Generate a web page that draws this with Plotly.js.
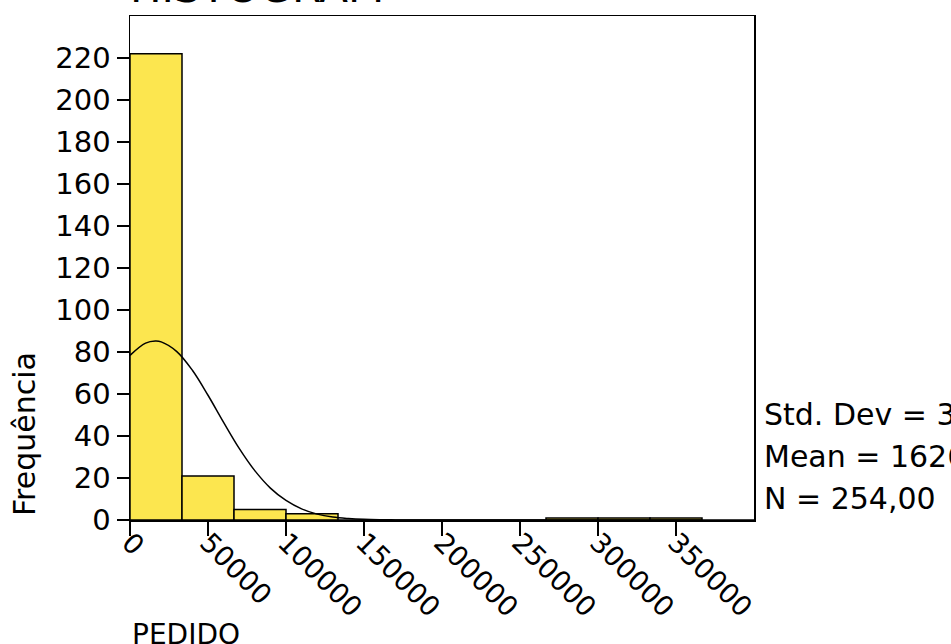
<!DOCTYPE html>
<html>
<head>
<meta charset="utf-8">
<script src="https://cdn.plot.ly/plotly-3.0.1.min.js"></script>
<style>html,body{margin:0;padding:0;background:#fff;}#chart{width:951px;height:644px;}</style>
</head>
<body>
<div id="chart"></div>
<script>
// Histogram bins (lower edges) and counts
const binWidth = 400000 / 12;
const binStarts = [0, 33333.33, 66666.67, 100000, 133333.33, 166666.67, 200000, 233333.33, 266666.67, 300000, 333333.33];
const counts =    [222, 21, 5, 3, 0, 0, 0, 0, 1, 1, 1];

// Normal curve
const curveX = [0, 10000, 16250, 20000, 30000, 40000, 50000, 60000, 70000, 80000, 90000, 100000, 110000, 120000, 130000, 140000, 150000, 160000, 170000, 180000, 200000, 400000];
const curveY = [78.4, 84.2, 85.2, 84.8, 80.2, 71.3, 59.4, 46.5, 34.1, 23.5, 15.2, 9.3, 5.3, 2.8, 1.4, 0.7, 0.3, 0.12, 0.05, 0.02, 0, 0];

const xTicks = [0, 50000, 100000, 150000, 200000, 250000, 300000, 350000];
const yTicks = [0, 20, 40, 60, 80, 100, 120, 140, 160, 180, 200, 220];

const titleText = "HISTOGRAM";
const xTitle = "PEDIDO";
const yTitle = "Frequência";
const statsLines = ["Std. Dev = 39740,12", "Mean = 16261,4", "N = 254,00"];

const FONT = "DejaVu Sans, sans-serif";

const traces = [
  {
    type: "bar",
    x: binStarts,
    y: counts,
    width: binWidth,
    offset: 0,
    marker: {color: "#FCE64F", line: {color: "#000", width: 1.5}},
    hoverinfo: "skip"
  },
  {
    type: "scatter",
    mode: "lines",
    x: curveX,
    y: curveY,
    line: {color: "#000", width: 1.5, shape: "spline"},
    hoverinfo: "skip"
  }
];

const annotations = [
  {text: titleText, xref: "paper", yref: "paper", x: 0, y: 1, xanchor: "left", yanchor: "bottom",
   yshift: 2, xshift: -2, showarrow: false, font: {family: FONT, size: 42, color: "#000"}},
  {text: xTitle, xref: "paper", yref: "paper", x: 0, y: 0, xanchor: "left", yanchor: "top",
   yshift: -96, xshift: 0, showarrow: false, font: {family: FONT, size: 28, color: "#000"}},
  {text: yTitle, xref: "paper", yref: "paper", x: 0, y: 0, xanchor: "center", yanchor: "bottom",
   textangle: -90, xshift: -106, yshift: 2, showarrow: false, font: {family: FONT, size: 30, color: "#000"}}
];
statsLines.forEach((t, i) => {
  annotations.push({text: t, xref: "paper", yref: "paper", x: 1, y: 0, xanchor: "left", yanchor: "bottom",
    xshift: 8, yshift: 84 - 42 * i + 2, showarrow: false, font: {family: FONT, size: 30, color: "#000"}});
});

const layout = {
  width: 951, height: 644,
  margin: {l: 130, r: 197, t: 16, b: 124, pad: 0},
  paper_bgcolor: "#fff", plot_bgcolor: "#fff",
  showlegend: false,
  bargap: 0,
  font: {family: FONT, size: 27, color: "#000"},
  xaxis: {
    range: [0, 400000], tickvals: xTicks, ticktext: xTicks.map(String),
    tickangle: 45, ticks: "outside", ticklen: 14, tickwidth: 1.5, tickcolor: "#000",
    ticklabelstandoff: -20,
    showline: true, mirror: true, linecolor: "#000", linewidth: 1.5,
    showgrid: false, zeroline: false, tickfont: {family: FONT, size: 27.5, color: "#000"}
  },
  yaxis: {
    range: [0, 240], tickvals: yTicks, ticktext: yTicks.map(String),
    ticks: "outside", ticklen: 12, tickwidth: 1.5, tickcolor: "#000",
    showline: true, mirror: true, linecolor: "#000", linewidth: 1.5,
    showgrid: false, zeroline: false, tickfont: {family: FONT, size: 29, color: "#000"}
  },
  annotations: annotations
};

Plotly.newPlot("chart", traces, layout, {displayModeBar: false, staticPlot: true});
</script>
</body>
</html>
